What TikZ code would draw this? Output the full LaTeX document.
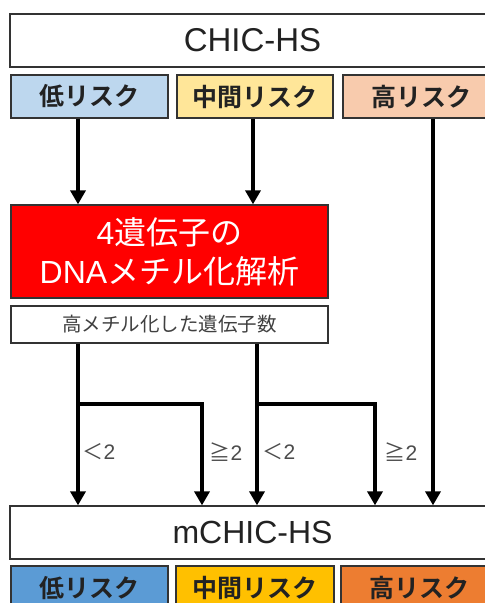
\documentclass[tikz,border=0pt]{standalone}
\usepackage{fontspec}
\setmainfont{Liberation Sans}
\newfontfamily\jp{Noto Sans CJK JP}
\newfontfamily\jpb{Noto Sans CJK JP Bold}
\usetikzlibrary{arrows.meta}
\definecolor{lblue}{HTML}{BDD7EE}
\definecolor{lyellow}{HTML}{FFE699}
\definecolor{lorange}{HTML}{F8CBAD}
\definecolor{dblue}{HTML}{5B9BD5}
\definecolor{dgold}{HTML}{FFC000}
\definecolor{dorange}{HTML}{ED7D31}
\definecolor{edge}{HTML}{333333}
\definecolor{txt}{HTML}{222222}
\tikzset{
  box/.style={draw=edge, line width=1.3pt, inner sep=0pt, anchor=center},
  risk/.style={box, minimum height=43pt, font=\jpb\fontsize{25}{28}\selectfont, text=txt},
  arr/.style={line width=3.6pt, -{Triangle[width=15pt,length=14pt]}},
  lab/.style={font=\fontsize{21}{23}\selectfont, text=black!70, inner sep=0pt}
}
\begin{document}
\begin{tikzpicture}[x=1pt,y=-1pt]
\useasboundingbox (0,0) rectangle (485,603);
\clip (0,0) rectangle (485,603);
% top
\node[box, minimum width=485pt, minimum height=53pt, font=\fontsize{33}{36}\selectfont, text=txt] (chic) at (252.5,40.5) {CHIC-HS};
\node[risk, fill=lblue, minimum width=157pt] (low) at (89.5,96.5) {低リスク};
\node[risk, fill=lyellow, minimum width=156pt] (mid) at (255,96.5) {中間リスク};
\node[risk, fill=lorange, minimum width=157pt] (high) at (421.5,96.5) {高リスク};
% red box
\node[box, fill=red, minimum width=317pt, minimum height=93pt, text=white, align=center,
  font=\jp\fontsize{32}{39}\selectfont] (red) at (169.5,251.5)
  {{\rmfamily 4}遺伝子の\\{\rmfamily DNA}メチル化解析};
\node[box, fill=white, minimum width=317pt, minimum height=37pt, text=black!75,
  font=\jp\fontsize{19.5}{22}\selectfont] (cnt) at (169.5,324.5) {高メチル化した遺伝子数};
% bottom
\node[box, minimum width=485pt, minimum height=53pt, font=\fontsize{32}{36}\selectfont, text=txt] (mchic) at (252.5,532.5) {mCHIC-HS};
\node[risk, fill=dblue, minimum width=157pt, minimum height=44pt] (blow) at (89.5,588) {低リスク};
\node[risk, fill=dgold, minimum width=158pt, minimum height=44pt] (bmid) at (255,588) {中間リスク};
\node[risk, fill=dorange, minimum width=157pt, minimum height=44pt] (bhigh) at (419.5,588) {高リスク};
% x positions
\coordinate (xa) at (78,0);
\coordinate (xb) at (253,0);
\coordinate (xc) at (433,0);
\coordinate (xd) at (257,0);
\coordinate (xe) at (202,0);
\coordinate (xf) at (375,0);
\coordinate (j1) at (78,404);
\coordinate (j2) at (257,404);
% arrows top
\draw[arr] (low.south -| xa) -- (red.north -| xa);
\draw[arr] (mid.south -| xb) -- (red.north -| xb);
\draw[arr] (high.south -| xc) -- (mchic.north -| xc);
% branches
\draw[arr] (cnt.south -| xa) -- (mchic.north -| xa);
\draw[arr] (j1) -- (j1 -| xe) -- (mchic.north -| xe);
\draw[arr] (cnt.south -| xd) -- (mchic.north -| xd);
\draw[arr] (j2) -- (j2 -| xf) -- (mchic.north -| xf);
% labels
\node[lab] (l1) at (99,452) {{\jp ＜}2};
\node[lab] (l2) at (226,452) {{\jp ≧}2};
\node[lab] (l3) at (279,452) {{\jp ＜}2};
\node[lab] (l4) at (401,452) {{\jp ≧}2};
\end{tikzpicture}
\end{document}
